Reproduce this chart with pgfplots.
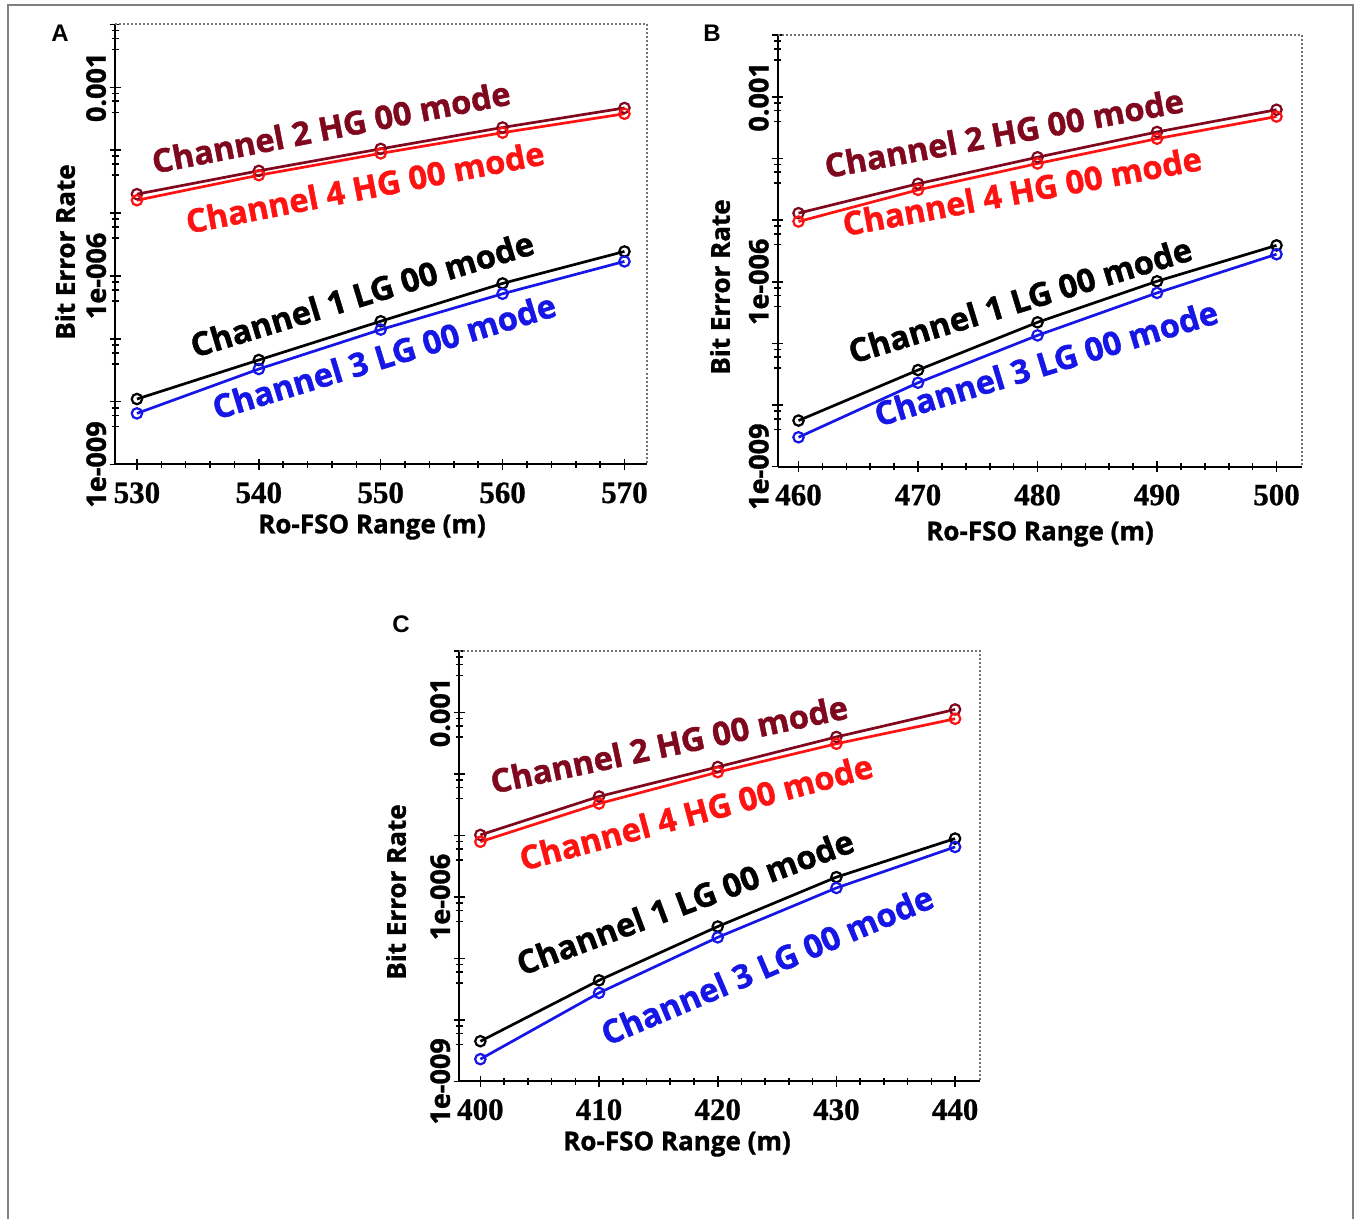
\documentclass[border=0pt]{standalone}
\usepackage{pgfplots}
\pgfplotsset{compat=1.18}
\usepackage{fontspec}
\newfontfamily\osb{Open Sans}[BoldFeatures={FakeBold=1.3}]
\newfontfamily\lsb{Liberation Serif}[BoldFeatures={FakeBold=0.8}]
\newfontfamily\lsa{Liberation Sans}
\definecolor{cdred}{RGB}{128,8,30}
\definecolor{cred}{RGB}{255,18,18}
\definecolor{cblue}{RGB}{22,22,230}
\definecolor{framegray}{RGB}{128,128,128}

\pgfplotsset{
 every axis/.append style={
   scale only axis, ymode=log, ymin=1e-9, ymax=1e-2, enlargelimits=false, clip=false,
   axis lines=left, axis line style={-, line width=1pt, black},
   ytick={1e-9,1e-8,1e-7,1e-6,1e-5,1e-4,1e-3,1e-2},
   yticklabels={1e-009,{},{},1e-006,{},{},0.001,{}},
   minor ytick={4e-9,6e-9,8e-9,4e-8,6e-8,8e-8,4e-7,6e-7,8e-7,4e-6,6e-6,8e-6,4e-5,6e-5,8e-5,4e-4,6e-4,8e-4,4e-3,6e-3,8e-3},
   minor x tick num=4,
   tick align=center,
   major tick length=5.5pt, minor tick length=3.5pt,
   tick style={black, line width=0.8pt},
   yticklabel style={font=\osb\bfseries\fontsize{13.5}{13.5}\selectfont, rotate=90, anchor=south, inner sep=0pt},
   yticklabel shift=1.5pt,
   xticklabel style={font=\lsb\bfseries\fontsize{15.5}{15.5}\selectfont, anchor=north, inner sep=0pt},
   xticklabel shift=6pt,
   /pgf/number format/assume math mode=true,
 },
 every axis plot/.append style={line width=1.35pt, mark=o, mark size=2.6pt, mark options={line width=1.1pt, solid}},
}
\newcommand{\ann}{\osb\bfseries\fontsize{16.3}{16.3}\selectfont}
\newcommand{\lab}{\osb\bfseries\fontsize{13}{13}\selectfont}
\newcommand{\border}{\draw[densely dotted, line width=1pt, black!55] (rel axis cs:0,1) -- (rel axis cs:1,1) -- (rel axis cs:1,0);}

\begin{document}
\begin{tikzpicture}[x=0.5pt,y=0.5pt]
\useasboundingbox (0,0) rectangle (1356,1219);
\fill[white] (0,0) rectangle (1356,1219);
\draw[framegray, line width=1pt] (8,-5) -- (8,1214) -- (1353,1214) -- (1353,-5);

% ---------------- Panel A ----------------
\begin{axis}[at={(57.5pt,377.25pt)}, anchor=south west, width=266pt, height=220pt,
  xmin=528.2, xmax=571.85, xtick={530,540,550,560,570}]
\addplot[cdred] coordinates {(530,2.0e-5) (540,4.7e-5) (550,1.05e-4) (560,2.3e-4) (570,4.7e-4)};
\addplot[cred] coordinates {(530,1.6e-5) (540,4.0e-5) (550,8.9e-5) (560,1.9e-4) (570,3.8e-4)};
\addplot[black] coordinates {(530,1.1e-8) (540,4.6e-8) (550,1.9e-7) (560,7.6e-7) (570,2.45e-6)};
\addplot[cblue] coordinates {(530,6.5e-9) (540,3.3e-8) (550,1.4e-7) (560,5.2e-7) (570,1.7e-6)};
\border
\end{axis}

% ---------------- Panel B ----------------
\begin{axis}[at={(388.8pt,376.15pt)}, anchor=south west, width=262pt, height=215.7pt,
  xmin=458.25, xmax=502.1, xtick={460,470,480,490,500}]
\addplot[cdred] coordinates {(460,1.3e-5) (470,3.9e-5) (480,1.05e-4) (490,2.7e-4) (500,6.2e-4)};
\addplot[cred] coordinates {(460,9.5e-6) (470,3.1e-5) (480,8.3e-5) (490,2.1e-4) (500,4.8e-4)};
\addplot[black] coordinates {(460,5.6e-9) (470,3.7e-8) (480,2.2e-7) (490,1.02e-6) (500,3.9e-6)};
\addplot[cblue] coordinates {(460,3.0e-9) (470,2.3e-8) (480,1.35e-7) (490,6.6e-7) (500,2.8e-6)};
\border
\end{axis}

% ---------------- Panel C ----------------
\begin{axis}[at={(229.5pt,68.8pt)}, anchor=south west, width=260.5pt, height=215.2pt,
  xmin=398.2, xmax=442.1, xtick={400,410,420,430,440}]
\addplot[cdred] coordinates {(400,1.02e-5) (410,4.3e-5) (420,1.3e-4) (430,4.0e-4) (440,1.12e-3)};
\addplot[cred] coordinates {(400,7.9e-6) (410,3.3e-5) (420,1.07e-4) (430,3.1e-4) (440,7.9e-4)};
\addplot[black] coordinates {(400,4.5e-9) (410,4.4e-8) (420,3.3e-7) (430,2.1e-6) (440,8.9e-6)};
\addplot[cblue] coordinates {(400,2.3e-9) (410,2.75e-8) (420,2.2e-7) (430,1.4e-6) (440,6.5e-6)};
\border
\end{axis}

% ---------------- annotations ----------------
\begin{scope}[every node/.style={inner sep=0pt}]
% A
\node[font=\ann, text=cdred, rotate=11] at (331,1092) {Channel 2 HG 00 mode};
\node[font=\ann, text=cred, rotate=11] at (365,1032) {Channel 4 HG 00 mode};
\node[font=\ann, text=black, rotate=17] at (362,925) {Channel 1 LG 00 mode};
\node[font=\ann, text=cblue, rotate=17] at (384,863) {Channel 3 LG 00 mode};
% B
\node[font=\ann, text=cdred, rotate=10.5] at (1004,1086) {Channel 2 HG 00 mode};
\node[font=\ann, text=cred, rotate=10.5] at (1022,1028) {Channel 4 HG 00 mode};
\node[font=\ann, text=black, rotate=17] at (1020,919) {Channel 1 LG 00 mode};
\node[font=\ann, text=cblue, rotate=17] at (1046,856) {Channel 3 LG 00 mode};
% C
\node[font=\ann, text=cdred, rotate=12] at (669,475) {Channel 2 HG 00 mode};
\node[font=\ann, text=cred, rotate=15] at (696,407) {Channel 4 HG 00 mode};
\node[font=\ann, text=black, rotate=20.5] at (685,317) {Channel 1 LG 00 mode};
\node[font=\ann, text=cblue, rotate=23] at (767,254) {Channel 3 LG 00 mode};

% axis labels
\node[font=\lab, rotate=90] at (65,967) {Bit Error Rate};
\node[font=\lab] at (372,692) {Ro-FSO Range (m)};
\node[font=\lab, rotate=90] at (720,932) {Bit Error Rate};
\node[font=\lab] at (1040,685) {Ro-FSO Range (m)};
\node[font=\lab, rotate=90] at (396,327) {Bit Error Rate};
\node[font=\lab] at (677,75) {Ro-FSO Range (m)};

% panel letters
\node[font=\lsa\bfseries\fontsize{12}{12}\selectfont] at (60,1186) {A};
\node[font=\lsa\bfseries\fontsize{12}{12}\selectfont] at (712,1186) {B};
\node[font=\lsa\bfseries\fontsize{12}{12}\selectfont] at (401,595) {C};
\end{scope}
\end{tikzpicture}
\end{document}
